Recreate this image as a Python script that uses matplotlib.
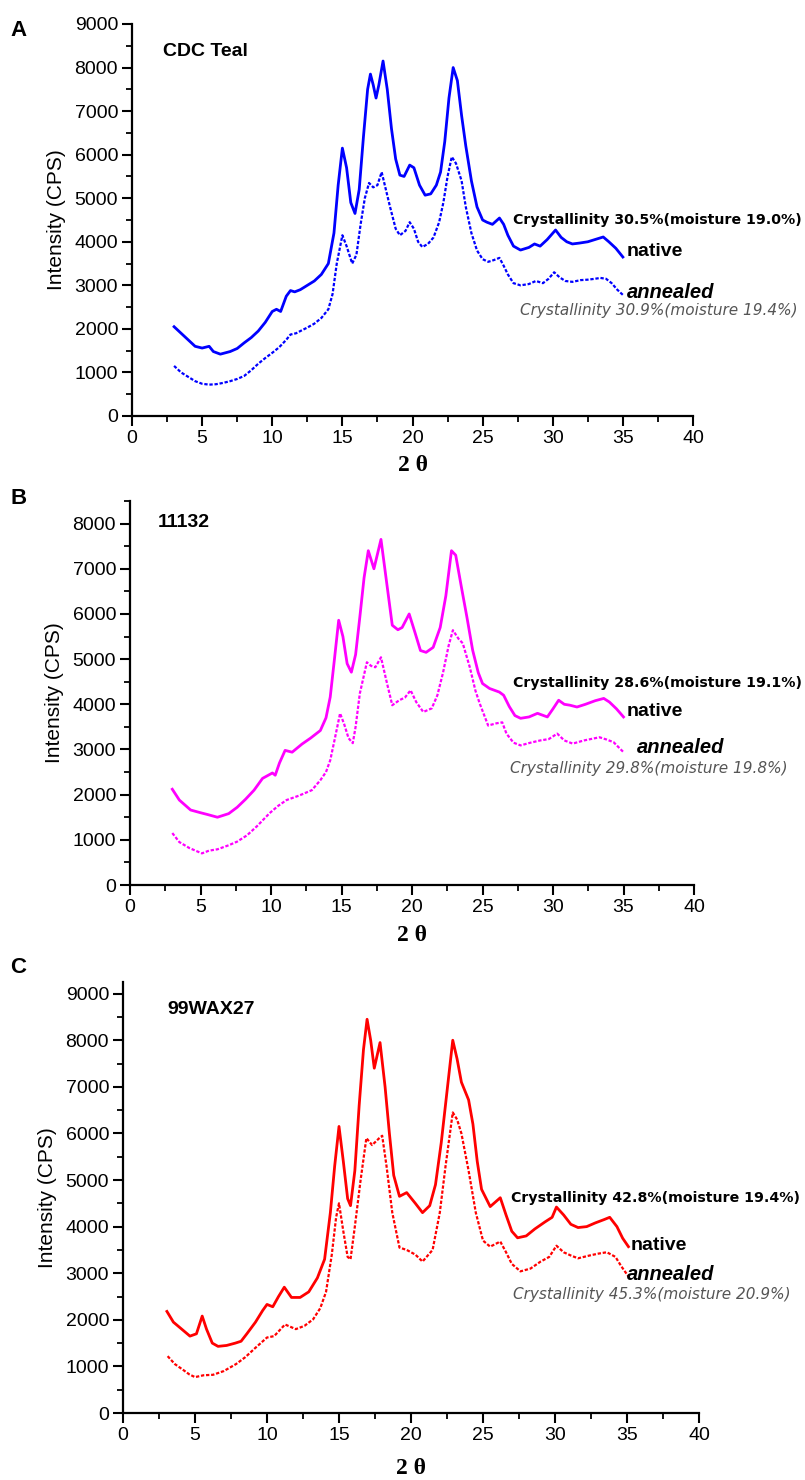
import matplotlib
matplotlib.use("Agg")
import matplotlib.pyplot as plt
from matplotlib.ticker import MultipleLocator

plt.rcParams['font.family'] = ['Liberation Sans', 'DejaVu Sans']

# ---------------- data ----------------
a_nat_x = [3.0, 3.5, 4, 4.5, 5, 5.5, 5.8, 6.3, 7, 7.5, 8, 8.5, 9, 9.5, 10, 10.3, 10.6, 11, 11.3, 11.6, 12, 12.5, 13, 13.5, 14, 14.4, 14.7, 15, 15.3, 15.6, 15.9, 16.2, 16.5, 16.8, 17.0, 17.2, 17.4, 17.6, 17.9, 18.2, 18.5, 18.8, 19.1, 19.4, 19.8, 20.1, 20.5, 20.9, 21.3, 21.7, 22.0, 22.3, 22.6, 22.9, 23.2, 23.5, 23.8, 24.2, 24.6, 25.0, 25.3, 25.7, 26.2, 26.5, 26.8, 27.2, 27.7, 28.3, 28.7, 29.1, 29.6, 30.2, 30.6, 31.0, 31.4, 31.9, 32.5, 33.0, 33.6, 34.0, 34.5, 35.0]
a_nat_y = [2050, 1900, 1750, 1600, 1560, 1600, 1480, 1420, 1480, 1550, 1680, 1800, 1950, 2150, 2400, 2450, 2400, 2750, 2880, 2850, 2900, 3000, 3100, 3250, 3500, 4200, 5300, 6150, 5700, 4900, 4650, 5200, 6400, 7500, 7850, 7600, 7300, 7600, 8150, 7500, 6600, 5900, 5530, 5500, 5760, 5700, 5300, 5070, 5100, 5300, 5600, 6300, 7300, 8000, 7700, 6900, 6200, 5400, 4800, 4500, 4450, 4400, 4545, 4400, 4150, 3900, 3810, 3870, 3950, 3900, 4050, 4270, 4100, 4000, 3950, 3970, 4000, 4050, 4110, 4000, 3850, 3650]
a_ann_x = [3, 3.5, 4, 4.5, 5, 5.5, 6, 6.5, 7, 7.5, 8, 8.5, 9, 9.5, 10, 10.5, 11, 11.3, 11.7, 12, 12.5, 13, 13.5, 14, 14.3, 14.6, 15.0, 15.3, 15.7, 16.0, 16.3, 16.6, 16.9, 17.2, 17.5, 17.8, 18.1, 18.4, 18.8, 19.1, 19.5, 19.8, 20.1, 20.4, 20.7, 21.1, 21.5, 21.9, 22.2, 22.5, 22.8, 23.1, 23.5, 23.8, 24.2, 24.6, 25.0, 25.4, 25.8, 26.2, 26.5, 26.8, 27.2, 27.7, 28.3, 28.8, 29.3, 29.7, 30.1, 30.5, 30.9, 31.4, 32, 32.5, 33.0, 33.4, 33.8, 34.2, 34.6, 35.0]
a_ann_y = [1150, 1000, 900, 800, 740, 720, 730, 760, 800, 850, 920, 1050, 1200, 1330, 1450, 1580, 1750, 1870, 1900, 1950, 2030, 2120, 2250, 2450, 2800, 3500, 4150, 3900, 3500, 3700, 4400, 5000, 5350, 5250, 5300, 5600, 5200, 4800, 4300, 4150, 4250, 4450, 4300, 4000, 3880, 3950, 4100, 4450, 4900, 5500, 5950, 5800, 5400, 4800, 4200, 3800, 3600, 3540, 3580, 3630, 3450, 3250, 3050, 3000, 3030, 3100, 3050, 3150, 3300, 3180, 3100, 3080, 3120, 3130, 3150, 3170, 3150, 3050, 2900, 2780]

b_nat_x = [3.0, 3.5, 4.3, 5, 5.5, 6.2, 7, 7.6, 8.2, 8.8, 9.4, 10.1, 10.3, 10.6, 11.0, 11.5, 12.2, 12.8, 13.5, 13.9, 14.2, 14.5, 14.8, 15.1, 15.4, 15.7, 16.0, 16.3, 16.6, 16.9, 17.3, 17.8, 18.2, 18.6, 19.0, 19.3, 19.8, 20.2, 20.6, 21.0, 21.5, 22.0, 22.4, 22.8, 23.1, 23.5, 23.9, 24.3, 24.7, 25.0, 25.5, 26.2, 26.5, 26.9, 27.3, 27.7, 28.3, 28.9, 29.6, 30.0, 30.4, 30.8, 31.2, 31.7, 32.3, 33.0, 33.6, 34.0, 34.5, 35.0]
b_nat_y = [2120, 1880, 1660, 1600, 1560, 1500, 1580, 1720, 1900, 2100, 2360, 2480, 2430, 2700, 2980, 2940, 3120, 3250, 3420, 3700, 4160, 5000, 5860, 5500, 4900, 4710, 5100, 5930, 6800, 7400, 7000, 7650, 6700, 5750, 5650, 5700, 6000, 5600, 5190, 5150, 5260, 5700, 6400, 7400, 7300, 6600, 5920, 5200, 4700, 4460, 4350, 4270, 4200, 3950, 3750, 3690, 3720, 3800, 3720, 3900, 4090, 4000, 3980, 3940, 4000, 4080, 4130, 4050, 3900, 3720]
b_ann_x = [3.0, 3.5, 4.2, 5.1, 5.6, 6.2, 7, 7.6, 8.3, 9.0, 9.9, 10.5, 11.1, 12.0, 12.9, 13.5, 13.9, 14.2, 14.5, 14.9, 15.2, 15.5, 15.8, 16.0, 16.3, 16.8, 17.1, 17.4, 17.8, 18.2, 18.6, 19.1, 19.5, 19.9, 20.3, 20.8, 21.4, 21.8, 22.2, 22.6, 22.9, 23.3, 23.6, 24.1, 24.5, 24.8, 25.4, 26.0, 26.4, 26.7, 27.2, 27.7, 28.4, 29.1, 29.7, 30.3, 30.8, 31.4, 32.2, 33.3, 33.8, 34.3, 35.0]
b_ann_y = [1150, 950, 820, 700, 760, 790, 880, 960, 1100, 1300, 1590, 1750, 1880, 1980, 2100, 2320, 2500, 2760, 3200, 3800, 3550, 3250, 3140, 3500, 4240, 4930, 4850, 4820, 5040, 4500, 3980, 4090, 4150, 4310, 4050, 3830, 3910, 4200, 4700, 5300, 5640, 5450, 5350, 4820, 4300, 4020, 3530, 3580, 3600, 3350, 3150, 3090, 3150, 3200, 3230, 3350, 3200, 3130, 3200, 3270, 3220, 3160, 2940]

c_nat_x = [3.05, 3.5, 4.0, 4.65, 5.1, 5.5, 5.8, 6.2, 6.6, 7.2, 7.8, 8.2, 8.6, 9.2, 9.7, 10.0, 10.4, 10.8, 11.2, 11.7, 12.3, 12.9, 13.5, 14.0, 14.4, 14.7, 15.0, 15.3, 15.6, 15.8, 16.1, 16.4, 16.7, 16.95, 17.2, 17.45, 17.85, 18.2, 18.5, 18.8, 19.2, 19.7, 20.3, 20.8, 21.3, 21.7, 22.1, 22.5, 22.9, 23.2, 23.5, 24.0, 24.3, 24.6, 24.9, 25.5, 26.2, 26.6, 27.0, 27.4, 28.0, 28.6, 29.3, 29.8, 30.1, 30.6, 31.1, 31.6, 32.2, 32.8, 33.4, 33.8, 34.3, 34.7, 35.1]
c_nat_y = [2180, 1950, 1820, 1650, 1700, 2080, 1800, 1500, 1430, 1450, 1500, 1540, 1700, 1950, 2200, 2330, 2280, 2500, 2700, 2480, 2480, 2600, 2900, 3300, 4300, 5300, 6150, 5400, 4600, 4450, 5200, 6600, 7800, 8450, 8000, 7400, 7950, 7000, 6000, 5100, 4650, 4730, 4500, 4300, 4450, 4900, 5800, 6900, 8000, 7600, 7100, 6720, 6200, 5400, 4800, 4430, 4620, 4250, 3900, 3760, 3800, 3950, 4100, 4200, 4420, 4250, 4050, 3980, 4000, 4080, 4150, 4200, 4000, 3750, 3570]
c_ann_x = [3.1, 3.6, 4.2, 4.6, 5.0, 5.6, 6.25, 7.0, 7.85, 8.5, 9.2, 10.0, 10.5, 11.25, 12.0, 12.6, 13.2, 13.7, 14.1, 14.5, 14.8, 15.0, 15.3, 15.6, 15.8, 16.1, 16.5, 16.9, 17.3, 17.8, 18.0, 18.3, 18.7, 19.2, 19.7, 20.3, 20.8, 21.5, 22.0, 22.4, 22.9, 23.2, 23.5, 24.0, 24.5, 25.0, 25.5, 26.2, 26.6, 27.0, 27.6, 28.3, 29.0, 29.6, 30.1, 30.6, 31.1, 31.6, 32.4, 33.0, 33.6, 34.2, 34.6, 35.1]
c_ann_y = [1220, 1050, 920, 830, 770, 810, 820, 900, 1050, 1200, 1400, 1620, 1650, 1900, 1800, 1870, 2010, 2250, 2600, 3400, 4200, 4500, 3900, 3350, 3300, 4000, 5000, 5900, 5750, 5900, 5950, 5300, 4300, 3550, 3500, 3400, 3250, 3500, 4300, 5300, 6450, 6300, 6000, 5200, 4300, 3700, 3570, 3680, 3450, 3200, 3040, 3100, 3250, 3350, 3590, 3450, 3380, 3320, 3380, 3420, 3450, 3350, 3150, 2930]

panel_letters = ["A", "B", "C"]
sample_names = ["CDC Teal", "11132", "99WAX27"]
native_notes = ["Crystallinity 30.5%(moisture 19.0%)",
                "Crystallinity 28.6%(moisture 19.1%)",
                "Crystallinity 42.8%(moisture 19.4%)"]
annealed_notes = ["Crystallinity 30.9%(moisture 19.4%)",
                  "Crystallinity 29.8%(moisture 19.8%)",
                  "Crystallinity 45.3%(moisture 20.9%)"]
colors = ["#0000FF", "#FF00FF", "#FF0000"]
y_tops = [9000, 8500, 9250]
y_major = [list(range(0, 9001, 1000)), list(range(0, 8001, 1000)), list(range(0, 9001, 1000))]
x_ticks = list(range(0, 41, 5))

series = [(a_nat_x, a_nat_y, a_ann_x, a_ann_y),
          (b_nat_x, b_nat_y, b_ann_x, b_ann_y),
          (c_nat_x, c_nat_y, c_ann_x, c_ann_y)]

# ---------------- layout (pixels) ----------------
W, H = 805, 1480
fig = plt.figure(figsize=(W / 100, H / 100), dpi=100)

boxes = [(132, 693, 24, 416), (130, 694, 501, 885), (123, 699, 982, 1413)]

def fx(px):
    return px / W

def fy(py):
    return 1 - py / H

def ftext(px, py, s, **kw):
    kw.setdefault('va', 'center')
    kw.setdefault('ha', 'left')
    fig.text(fx(px), fy(py), s, **kw)

letter_pos = [(10, 30), (10, 498), (10, 967)]
name_pos = [(163, 52), (158, 522), (167, 1010)]
nnote_pos = [(513, 220), (513, 683), (511, 1198)]
native_pos = [(627, 251), (627, 712), (631, 1245)]
ann_pos = [(627, 293), (637, 748), (627, 1275)]
anote_pos = [(520, 310), (510, 769), (513, 1295)]
xlabel_y = [465, 935, 1468]

for i in range(3):
    l, r, t, b = boxes[i]
    ax = fig.add_axes([fx(l), fy(b), (r - l) / W, (b - t) / H])
    nx, ny, axx, ayy = series[i]
    ax.plot(nx, ny, color=colors[i], lw=2.0, solid_joinstyle='round')
    ax.plot(axx, ayy, color=colors[i], lw=1.6, linestyle=(0, (1.5, 0.8)))
    ax.set_xlim(0, 40)
    ax.set_ylim(0, y_tops[i])
    ax.set_xticks(x_ticks)
    ax.set_yticks(y_major[i])
    ax.xaxis.set_minor_locator(MultipleLocator(2.5))
    ax.yaxis.set_minor_locator(MultipleLocator(500))
    for s in ['top', 'right']:
        ax.spines[s].set_visible(False)
    for s in ['left', 'bottom']:
        ax.spines[s].set_linewidth(1.6)
    ax.tick_params(which='major', direction='out', length=7, width=1.5, labelsize=14, pad=3)
    ax.tick_params(which='minor', direction='out', length=4, width=1.3)
    ax.set_ylabel("Intensity (CPS)", fontsize=15, labelpad=6)

    ftext(*letter_pos[i], panel_letters[i], fontsize=16, fontweight='bold')
    ftext(*name_pos[i], sample_names[i], fontsize=14, fontweight='bold')
    ftext(*nnote_pos[i], native_notes[i], fontsize=10.2, fontweight='bold',
          family=['DejaVu Sans'])
    ftext(*native_pos[i], "native", fontsize=14, fontweight='bold')
    ftext(*ann_pos[i], "annealed", fontsize=14.5, fontweight='bold', style='italic')
    ftext(*anote_pos[i], annealed_notes[i], fontsize=11, style='italic', color='#555555',
          family=['DejaVu Sans'])
    ftext((l + r) / 2, xlabel_y[i], "2 \u03b8", fontsize=17, fontweight='bold',
          ha='center', family=['Liberation Serif', 'DejaVu Serif'])

fig.savefig("out.png", dpi=100)
